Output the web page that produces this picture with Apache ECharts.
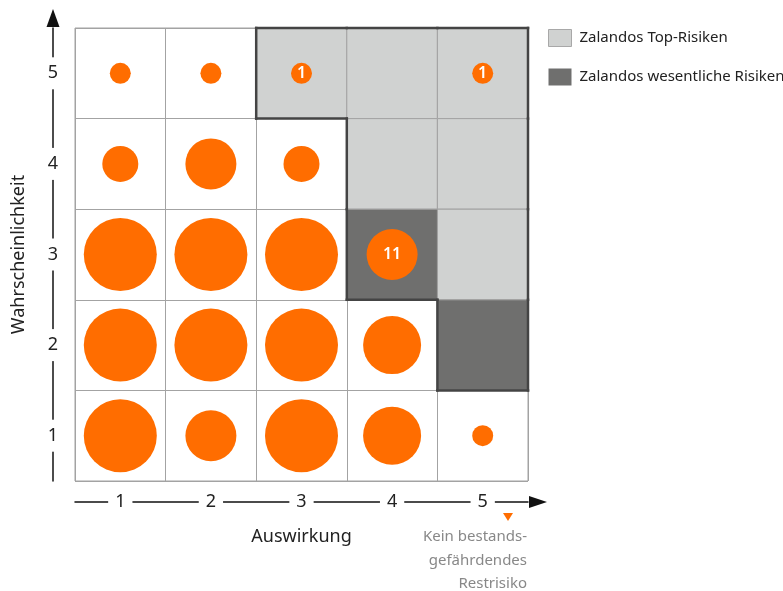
<!DOCTYPE html>
<html>
<head>
<meta charset="utf-8">
<script src="https://cdn.jsdelivr.net/npm/echarts@6/dist/echarts.min.js"></script>
<style>
html,body{margin:0;padding:0;background:#fff;}
#chart{width:783px;height:591px;}
</style>
</head>
<body>
<div id="chart"></div>
<script>
// ---- data ----
const impactLabels = ['1', '2', '3', '4', '5'];
const probLabels = ['1', '2', '3', '4', '5'];

// risk bubbles: impact (x), probability (y), size class, shown count
const bubbleImpact = [1, 2, 3, 5, 1, 2, 3, 1, 2, 3, 4, 1, 2, 3, 4, 1, 2, 3, 4, 5];
const bubbleProb   = [5, 5, 5, 5, 4, 4, 4, 3, 3, 3, 3, 2, 2, 2, 2, 1, 1, 1, 1, 1];
const bubbleLevel  = [1, 1, 1, 1, 2, 3, 2, 5, 5, 5, 3, 5, 5, 5, 4, 5, 3, 5, 4, 1];
const bubbleCount  = [null, null, 1, 1, null, null, null, null, null, null, 11, null, null, null, null, null, null, null, null, null];

// highlighted cells
const topRiskImpact = [3, 4, 5, 4, 5, 5];
const topRiskProb   = [5, 5, 5, 4, 4, 3];
const keyRiskImpact = [4, 5];
const keyRiskProb   = [3, 2];

const seriesNames = ['Zalandos Top-Risiken', 'Zalandos wesentliche Risiken'];
const noteText = ['Kein bestands-', 'gefährdendes', 'Restrisiko'];

// ---- styles ----
const FONT = '"Noto Sans", "Open Sans", sans-serif';
const ORANGE = '#ff6d00';
const LIGHT = '#d0d2d1';
const DARK = '#6f6f6e';
const GRIDLINE = '#a3a3a3';
const sizeByLevel = {1: 21, 2: 36, 3: 51, 4: 58, 5: 73};

const topCells = topRiskImpact.map((v, i) => [v - 1, topRiskProb[i] - 1]);
const keyCells = keyRiskImpact.map((v, i) => [v - 1, keyRiskProb[i] - 1]);
const unionCells = topCells.concat(keyCells);
const unionSet = new Set(unionCells.map(c => c[0] + ',' + c[1]));
const inUnion = (i, j) => unionSet.has(i + ',' + j);

const bubbles = bubbleImpact.map((v, i) => [v - 1, bubbleProb[i] - 1, bubbleLevel[i], bubbleCount[i]]);

function cellRenderer(fill) {
  return function (params, api) {
    const c = api.coord([api.value(0), api.value(1)]);
    const s = api.size([1, 1]);
    return {
      type: 'rect',
      shape: {x: c[0] - s[0] / 2, y: c[1] - s[1] / 2, width: s[0], height: s[1]},
      style: {fill: fill, stroke: GRIDLINE, lineWidth: 1}
    };
  };
}

const chart = echarts.init(document.getElementById('chart'), null, {renderer: 'canvas'});

const axisLineStyle = {color: '#111', width: 1.5};

chart.setOption({
  animation: false,
  backgroundColor: '#fff',
  textStyle: {fontFamily: FONT},
  grid: {
    left: 75, top: 28, width: 453, height: 453,
    show: true, borderColor: GRIDLINE, borderWidth: 1, backgroundColor: 'transparent',
    containLabel: false, outerBoundsMode: 'none'
  },
  legend: {
    orient: 'vertical',
    left: 548, top: 28,
    padding: 0,
    itemWidth: 23, itemHeight: 17, itemGap: 19,
    icon: 'rect',
    selectedMode: false,
    textStyle: {fontFamily: FONT, fontSize: 15, color: '#222', padding: [3, 0, 0, 3], lineHeight: 17},
    data: [
      {name: seriesNames[0], itemStyle: {color: LIGHT, borderColor: '#a8a8a8', borderWidth: 1}},
      {name: seriesNames[1], itemStyle: {color: DARK, borderColor: DARK, borderWidth: 0}}
    ]
  },
  xAxis: {
    type: 'category',
    data: impactLabels,
    boundaryGap: true,
    position: 'bottom',
    offset: 21,
    axisLine: {show: true, lineStyle: axisLineStyle, symbol: ['none', 'triangle'], symbolSize: [12, 18], symbolOffset: [0, 10]},
    axisTick: {show: false},
    axisLabel: {
      margin: 0, verticalAlign: 'middle', align: 'center',
      fontFamily: FONT, fontSize: 18, color: '#222',
      backgroundColor: '#fff', padding: [2, 7, 2, 7]
    },
    splitLine: {show: true, interval: 0, lineStyle: {color: GRIDLINE, width: 1}},
    name: 'Auswirkung',
    nameLocation: 'middle',
    nameGap: 26,
    nameTextStyle: {fontFamily: FONT, fontSize: 18, color: '#222'}
  },
  yAxis: {
    type: 'category',
    data: probLabels,
    boundaryGap: true,
    position: 'left',
    offset: 22,
    axisLine: {show: true, lineStyle: axisLineStyle, symbol: ['none', 'triangle'], symbolSize: [13, 18], symbolOffset: [0, 10]},
    axisTick: {show: false},
    axisLabel: {
      margin: 0, verticalAlign: 'middle', align: 'center',
      fontFamily: FONT, fontSize: 18, color: '#222',
      backgroundColor: '#fff', padding: [4, 2, 10, 2]
    },
    splitLine: {show: true, interval: 0, lineStyle: {color: GRIDLINE, width: 1}},
    name: 'Wahrscheinlichkeit',
    nameLocation: 'middle',
    nameRotate: 90,
    nameGap: 25,
    nameTextStyle: {fontFamily: FONT, fontSize: 18, color: '#222'}
  },
  series: [
    {
      name: seriesNames[0],
      type: 'custom',
      z: 2,
      itemStyle: {color: LIGHT},
      renderItem: cellRenderer(LIGHT),
      data: topCells,
      silent: true
    },
    {
      name: seriesNames[1],
      type: 'custom',
      z: 2,
      itemStyle: {color: DARK},
      renderItem: cellRenderer(DARK),
      data: keyCells,
      silent: true
    },
    {
      name: 'outline',
      type: 'custom',
      z: 3,
      silent: true,
      data: unionCells,
      renderItem: function (params, api) {
        const i = api.value(0), j = api.value(1);
        const c = api.coord([i, j]);
        const s = api.size([1, 1]);
        const l = c[0] - s[0] / 2, r = c[0] + s[0] / 2, t = c[1] - s[1] / 2, b = c[1] + s[1] / 2;
        const st = {stroke: '#444', lineWidth: 2.5, lineCap: 'square'};
        const ch = [];
        if (!inUnion(i, j + 1)) ch.push({type: 'line', shape: {x1: l, y1: t, x2: r, y2: t}, style: st});
        if (!inUnion(i, j - 1)) ch.push({type: 'line', shape: {x1: l, y1: b, x2: r, y2: b}, style: st});
        if (!inUnion(i - 1, j)) ch.push({type: 'line', shape: {x1: l, y1: t, x2: l, y2: b}, style: st});
        if (!inUnion(i + 1, j)) ch.push({type: 'line', shape: {x1: r, y1: t, x2: r, y2: b}, style: st});
        return {type: 'group', children: ch};
      }
    },
    {
      name: 'risks',
      type: 'scatter',
      z: 4,
      silent: true,
      data: bubbles,
      symbolSize: function (val) { return sizeByLevel[val[2]]; },
      itemStyle: {color: ORANGE, opacity: 1},
      label: {
        show: true,
        position: 'inside',
        formatter: function (p) { return p.value[3] == null ? '' : String(p.value[3]); },
        color: '#fff',
        fontFamily: FONT,
        fontSize: 16,
        fontWeight: 600
      }
    }
  ],
  graphic: [
    {
      type: 'polygon',
      shape: {points: [[503, 513], [513, 513], [508, 521]]},
      style: {fill: ORANGE}
    },
    {
      type: 'text',
      x: 527, y: 525,
      style: {
        text: noteText.join('\n'),
        align: 'right',
        verticalAlign: 'top',
        fontFamily: FONT,
        fontSize: 15,
        lineHeight: 23.5,
        fill: '#888'
      }
    }
  ]
});
</script>
</body>
</html>
